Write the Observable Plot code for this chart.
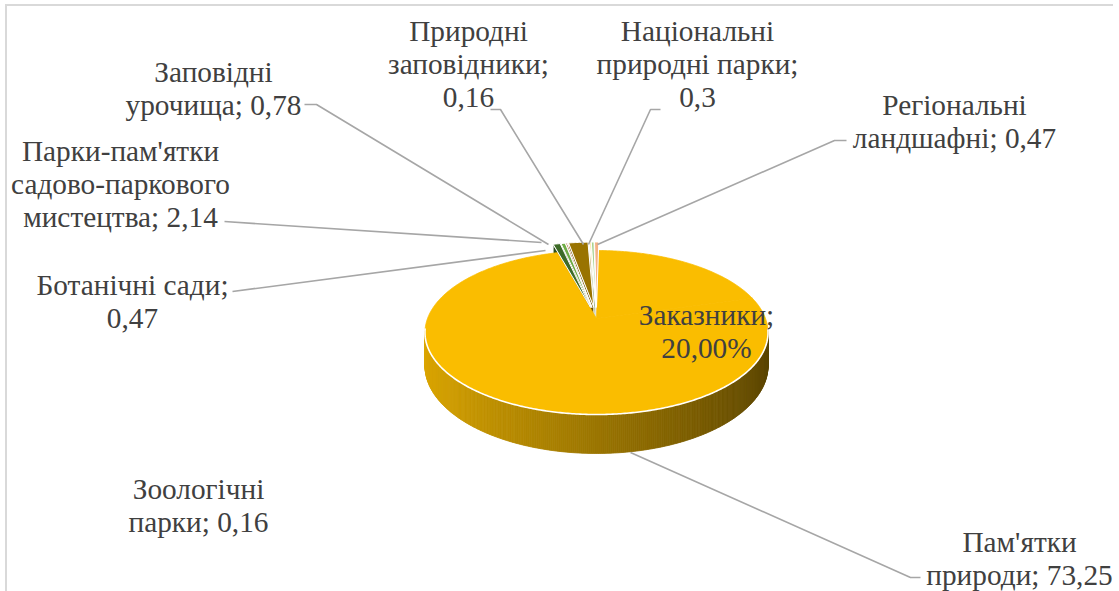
<!DOCTYPE html>
<html><head><meta charset="utf-8">
<script src="https://cdn.jsdelivr.net/npm/d3@7"></script>
<script src="https://cdn.jsdelivr.net/npm/@observablehq/plot@0.6"></script>
<style>
html,body{margin:0;padding:0;background:#fff;}
#wrap{position:relative;width:1119px;height:591px;overflow:hidden;}
#border{position:absolute;left:5px;top:4px;width:1106px;height:640px;border-left:2px solid #d9d9d9;border-top:2px solid #d9d9d9;pointer-events:none;}
</style></head><body>
<div id="wrap"><div id="chart"></div><div id="border"></div></div>
<script>
// ---- data (clockwise from 12 o'clock) ----
const categories = ["Природні заповідники","Національні природні парки","Регіональні ландшафні","Заказники","Пам'ятки природи","Заповідні урочища","Ботанічні сади","Зоологічні парки","Парки-пам'ятки садово-паркового мистецтва"];
const values = [0.16, 0.3, 0.47, 20, 73.25, 0.78, 0.47, 0.16, 2.14];
const labelTexts = ["Природні\nзаповідники;\n0,16","Національні\nприродні парки;\n0,3","Регіональні\nландшафні; 0,47","Заказники;\n20,00%","Пам'ятки\nприроди; 73,25","Заповідні\nурочища; 0,78","Ботанічні сади;\n0,47","Зоологічні\nпарки; 0,16","Парки-пам'ятки\nсадово-паркового\nмистецтва; 2,14"];

// ---- styles ----
const sliceColors = ["#ffd966","#a9d18e","#f4b183","#fabd00","#fabd00","#3d6b27","#70ad47","#9e480e","#997300"];
const explodedFlags = [true,true,true,false,false,true,true,true,true];

// ---- layout ----
const W = 1119, H = 591;
const pie = {cx:596, cy:318, R:169, S:79.6, p:0.171, D:32.3, explode:0.15, rotation:-2.5};
const labelLayout = [
  {x:468, y:63,  leader:[[490,109],[500,109],[583,244]]},
  {x:697, y:63,  leader:[[660,109],[650,109],[588,244]]},
  {x:954, y:120, leader:[[846,140],[834,140],[597,244]]},
  {x:706, y:330, leader:null},
  {x:1019,y:557, leader:[[630,452],[910,577],[920,577]]},
  {x:213, y:87,  leader:[[304,104],[316,104],[548,244]]},
  {x:132, y:300, leader:[[232,291],[545,250]]},
  {x:198, y:504, leader:null},
  {x:120, y:183, leader:[[224,221],[541,242]]}
];

function project(u, v, down) {
  const w = 1 - pie.p * v;
  return [pie.cx + pie.R * u / w, pie.cy + pie.S * v / w + (down ? pie.D / w : 0)];
}

const rot = pie.rotation * Math.PI / 180;
const arcs = d3.pie().sort(null).startAngle(rot).endAngle(rot + 2*Math.PI)(values);

const sideRows = [], wallRows = [], bigTopRows = [], smallTopRows = [], rimRows = [];
let gid = 0;
arcs.forEach((a, i) => {
  const mid = (a.startAngle + a.endAngle) / 2;
  const e = explodedFlags[i] ? pie.explode : 0;
  const ou = e * Math.sin(mid), ov = -e * Math.cos(mid);
  const color = sliceColors[i];
  const pt = (ang, r, down) => project(ou + r*Math.sin(ang), ov - r*Math.cos(ang), down);
  const n = Math.max(3, Math.ceil((a.endAngle - a.startAngle) / 0.01));
  const angs = d3.range(n+1).map(k => a.startAngle + (a.endAngle - a.startAngle) * k / n);
  // top face
  const topPts = [pt(0,0,false), ...angs.map(t => pt(t,1,false)), pt(0,0,false)];
  const target = explodedFlags[i] ? smallTopRows : bigTopRows;
  const id = "top" + i;
  topPts.forEach(([x,y]) => target.push({id, x, y, fill: color, stroke: explodedFlags[i] ? "#ffffff" : color}));
  // outer curved wall (front-facing part), shaded left to right
  const light = d3.color(color).darker(0.35), dark = d3.color(color).darker(2.9);
  const shade = d3.interpolateRgb(light, dark);
  for (let k = 0; k < n; k++) {
    const t0 = angs[k], t1 = angs[k+1];
    const tm = (t0 + t1) / 2;
    if (-Math.cos(tm) <= pie.p - 0.02) continue;
    const c = shade((Math.sin(tm) + 1) / 2);
    const gidS = "side" + (gid++);
    [pt(t0,1,false), pt(t1,1,false), pt(t1,1,true), pt(t0,1,true), pt(t0,1,false)]
      .forEach(([x,y]) => sideRows.push({id: gidS, x, y, fill: c, stroke: c}));
  }
  // white rim line along the visible front of the top face
  if (!explodedFlags[i]) {
    const rimAngs = angs.filter(t => -Math.cos(t) > pie.p - 0.05);
    rimAngs.forEach(t => { const [x,y] = pt(t,1,false); rimRows.push({id:"rim"+i, x, y}); });
  }
  // radial walls facing the viewer
  const walls = [[a.startAngle, -Math.sin(a.startAngle)], [a.endAngle, Math.sin(a.endAngle)]];
  walls.forEach(([ang, nv], j) => {
    if (nv <= 0 || !explodedFlags[i]) return;
    const c = d3.color(color).darker(0.9).formatHex();
    const wid = "wall" + i + "_" + j;
    [pt(0,0,false), pt(ang,1,false), pt(ang,1,true), pt(0,0,true), pt(0,0,false)]
      .forEach(([x,y]) => wallRows.push({id: wid, x, y, fill: c, stroke: "#ffffff"}));
  });
});

const rimRuns = [];
let runId = 0, prev = null;
rimRows.forEach(r => { if (prev && (prev.id !== r.id || Math.abs(prev.x - r.x) > 20)) runId++; rimRuns.push({...r, id: "r" + runId}); prev = r; });

const leaderRows = [];
labelLayout.forEach((l, i) => { if (l.leader) l.leader.forEach(([x,y]) => leaderRows.push({id: "L"+i, x, y})); });
const textRows = labelLayout.map((l, i) => ({x: l.x, y: l.y, text: labelTexts[i]}));

const chart = Plot.plot({
  width: W, height: H, margin: 0,
  x: {domain: [0, W], range: [0, W], axis: null},
  y: {domain: [0, H], range: [0, H], axis: null},
  color: {type: "identity"},
  style: {background: "transparent"},
  marks: [
    Plot.line(sideRows, {x:"x", y:"y", z:"id", fill:"fill", stroke:"stroke", strokeWidth:0.8, curve:"linear"}),
    Plot.line(wallRows, {x:"x", y:"y", z:"id", fill:"fill", stroke:"stroke", strokeWidth:0.8, curve:"linear"}),
    Plot.line(bigTopRows, {x:"x", y:"y", z:"id", fill:"fill", stroke:"stroke", strokeWidth:0.8, curve:"linear"}),
    Plot.line(rimRuns, {x:"x", y:"y", z:"id", stroke:"#ffffff", strokeWidth:1.6, curve:"linear"}),
    Plot.line(smallTopRows, {x:"x", y:"y", z:"id", fill:"fill", stroke:"stroke", strokeWidth:1, curve:"linear"}),
    Plot.line(leaderRows, {x:"x", y:"y", z:"id", stroke:"#a6a6a6", strokeWidth:1.6, strokeLinecap:"butt", curve:"linear"}),
    Plot.text(textRows, {x:"x", y:"y", text:"text", fontSize:29.3, fontFamily:"Liberation Serif", fill:"#404040", lineHeight:1.13, textAnchor:"middle"})
  ]
});
document.getElementById("chart").appendChild(chart);
</script>
</body></html>
